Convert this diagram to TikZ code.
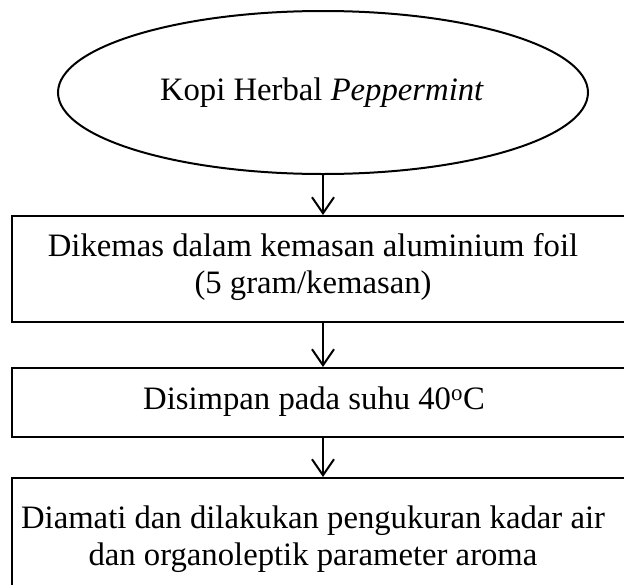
\documentclass[tikz,border=0pt]{standalone}
\usepackage{fontspec}
\setmainfont{Liberation Serif}
\usetikzlibrary{arrows.meta,shapes.geometric}
\begin{document}
\begin{tikzpicture}[x=1pt,y=-1pt,
  shape line/.style={draw, line width=2pt, inner sep=0pt},
  box/.style={shape line, rectangle, minimum width=622pt},
  txt/.style={font=\fontsize{32.7}{37}\selectfont, align=center, inner sep=0pt},
  flow/.style={-{Straight Barb[length=16pt,width=22pt,line width=2pt]}, line width=2pt}]
\clip (0,0) rectangle (624,584);
\node[shape line, ellipse, minimum width=530pt, minimum height=163pt] (e) at (323,92.5) {};
\node[txt] (et) at (322,93) {Kopi Herbal \textit{Peppermint}};
\node[box, minimum height=106pt] (b1) at (323,269) {};
\node[txt] (t1) at (313,267) {Dikemas dalam kemasan aluminium foil\\(5 gram/kemasan)};
\node[box, minimum height=69pt] (b2) at (323,402.5) {};
\node[txt] (t2) at (314,402) {Disimpan pada suhu 40\textsuperscript{o}C};
\node[box, minimum height=140pt] (b3) at (323,548) {};
\node[txt] (t3) at (313,539) {Diamati dan dilakukan pengukuran kadar air\\dan organoleptik parameter aroma};
\draw[flow] (e.south) -- (b1.north);
\draw[flow] (b1.south) -- (b2.north);
\draw[flow] (b2.south) -- (b3.north);
\end{tikzpicture}
\end{document}
